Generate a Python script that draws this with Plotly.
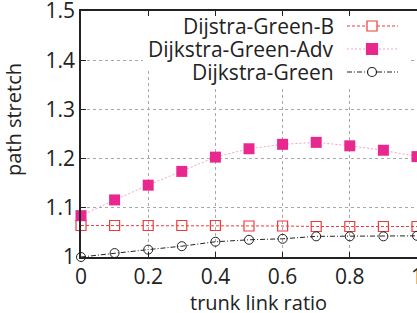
import plotly.graph_objects as go

x_vals = [0, 0.1, 0.2, 0.3, 0.4, 0.5, 0.6, 0.7, 0.8, 0.9, 1.0]
green_b = [1.064, 1.064, 1.064, 1.064, 1.064, 1.063, 1.063, 1.062, 1.062, 1.062, 1.062]
green_adv = [1.084, 1.116, 1.146, 1.174, 1.203, 1.220, 1.229, 1.233, 1.226, 1.217, 1.204]
green = [1.0, 1.008, 1.015, 1.022, 1.031, 1.035, 1.037, 1.042, 1.042, 1.042, 1.043]

series_names = ["Dijstra-Green-B", "Dijkstra-Green-Adv", "Dijkstra-Green"]
x_ticks = [0, 0.2, 0.4, 0.6, 0.8, 1.0]
x_tick_text = ["0", "0.2", "0.4", "0.6", "0.8", "1"]
y_ticks = [1.0, 1.1, 1.2, 1.3, 1.4, 1.5]
y_tick_text = ["1", "1.1", "1.2", "1.3", "1.4", "1.5"]

FONT = "Open Sans"
TXT = "#222222"
RED = "#ee3b3b"
MAG = "#e8288f"
PINK = "#f4a0cc"

fig = go.Figure()
fig.add_trace(go.Scatter(x=x_vals, y=green_b, mode="lines+markers", name=series_names[0],
                         line=dict(color=RED, width=1, dash="3px,2px"),
                         marker=dict(symbol="square-open", size=10, color=RED, line=dict(width=1.2)),
                         cliponaxis=False, showlegend=False))
fig.add_trace(go.Scatter(x=x_vals, y=green_adv, mode="lines+markers", name=series_names[1],
                         line=dict(color=PINK, width=1, dash="2px,2px"),
                         marker=dict(symbol="square", size=11, color=MAG),
                         cliponaxis=False, showlegend=False))
fig.add_trace(go.Scatter(x=x_vals, y=green, mode="lines+markers", name=series_names[2],
                         line=dict(color=TXT, width=1, dash="5px,2px,1px,2px"),
                         marker=dict(symbol="circle-open", size=9, color=TXT, line=dict(width=1)),
                         cliponaxis=False, showlegend=False))

# plot pixel geometry (for legend placement)
L, R, T, B = 81, 417, 11, 257


def px2x(px):
    return (px - L) / (R - L)


def py2y(py):
    return 1.0 + 0.5 * (B - py) / (B - T)


shapes = []
# white backing boxes behind the legend rows (gridlines broken there)
shapes.append(dict(type="rect", xref="x", yref="y", x0=px2x(143), x1=px2x(408), y0=py2y(68), y1=1.5,
                   fillcolor="white", line=dict(width=0), layer="between"))
shapes.append(dict(type="rect", xref="x", yref="y", x0=px2x(195), x1=px2x(408), y0=py2y(87), y1=1.5,
                   fillcolor="white", line=dict(width=0), layer="between"))

rows_py = [26, 49, 72]
styles = [
    (RED, "3px,2px", "rect", RED, "white", 10),
    (PINK, "2px,2px", "rect", MAG, MAG, 11),
    (TXT, "5px,2px,1px,2px", "circle", TXT, "white", 9),
]
annotations = []
for name, py, st in zip(series_names, rows_py, styles):
    lc, dash, mshape, mc, mfill, ms = st
    yv = py2y(py)
    shapes.append(dict(type="line", xref="x", yref="y", x0=px2x(347), x1=px2x(398), y0=yv, y1=yv,
                       line=dict(color=lc, width=1, dash=dash), layer="above"))
    h = ms / 2
    shapes.append(dict(type=mshape, xref="x", yref="y", xsizemode="pixel", ysizemode="pixel",
                       xanchor=px2x(372), yanchor=yv, x0=-h, x1=h, y0=-h, y1=h,
                       fillcolor=mfill, line=dict(color=mc, width=1.2), layer="above"))
    annotations.append(dict(x=px2x(336), y=yv, xref="x", yref="y", text=name, showarrow=False,
                            xanchor="right", yanchor="middle",
                            font=dict(family=FONT, size=21, color=TXT)))

annotations.append(dict(x=px2x(258), y=0, xref="x", yref="paper", text="trunk link ratio", showarrow=False,
                        xanchor="center", yanchor="middle", yshift=-45,
                        font=dict(family=FONT, size=20, color=TXT)))
annotations.append(dict(x=0, y=(B - 120) / (B - T), xref="paper", yref="paper", text="path stretch",
                        showarrow=False, textangle=-90, xanchor="center", yanchor="middle", xshift=-68,
                        font=dict(family=FONT, size=20, color=TXT)))

fig.update_layout(
    width=417, height=313,
    margin=dict(l=L, r=417 - R, t=T, b=313 - B, autoexpand=False),
    plot_bgcolor="white", paper_bgcolor="white",
    showlegend=False,
    font=dict(family=FONT, size=21, color=TXT),
    shapes=shapes, annotations=annotations,
    xaxis=dict(range=[0, 1], tickvals=x_ticks, ticktext=x_tick_text, automargin=False,
               ticklabeloverflow="allow",
               showline=True, linecolor=TXT, linewidth=1.5, mirror="ticks",
               ticks="inside", ticklen=5, tickcolor=TXT, tickwidth=1,
               showgrid=True, gridcolor="#a8a8a8", griddash="dot", gridwidth=1,
               zeroline=False, tickfont=dict(family=FONT, size=21, color=TXT)),
    yaxis=dict(range=[1, 1.5], tickvals=y_ticks, ticktext=y_tick_text, automargin=False,
               ticklabeloverflow="allow",
               showline=True, linecolor=TXT, linewidth=1.5,
               ticks="inside", ticklen=5, tickcolor=TXT, tickwidth=1,
               showgrid=True, gridcolor="#a8a8a8", griddash="dot", gridwidth=1,
               zeroline=False, tickfont=dict(family=FONT, size=21, color=TXT)),
)

fig.write_html("out.html", config={"displayModeBar": False},
               post_script="document.body.style.margin='0';")
